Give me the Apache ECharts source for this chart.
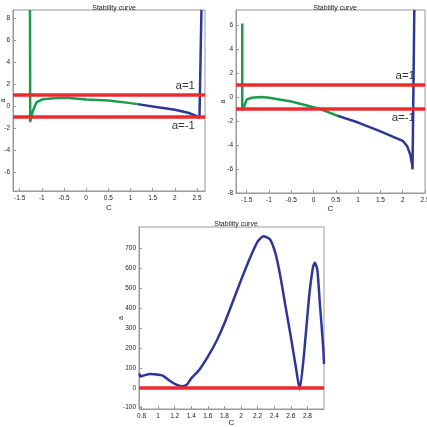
<!DOCTYPE html>
<html>
<head>
<meta charset="utf-8">
<script src="https://cdn.jsdelivr.net/npm/echarts@6/dist/echarts.min.js"></script>
<style>
  html, body { margin: 0; padding: 0; background: #fff; }
  #main { width: 427px; height: 427px; }
</style>
</head>
<body>
<div id="main"></div>
<script>
// top-left panel
var c1Green = [-1.267, -1.262, -1.25, -1.2, -1.12, -0.97, -0.74, -0.44, 0, 0.5, 1.0, 1.16];
var a1Green = [8.75, -1.47, -1.2, -0.41, 0.35, 0.62, 0.71, 0.74, 0.59, 0.5, 0.26, 0.17];
var c1Blue = [1.16, 1.5, 2.0, 2.3, 2.5, 2.555, 2.6];
var a1Blue = [0.17, -0.05, -0.35, -0.62, -0.92, -1.12, 8.75];

// top-right panel
var c2Green = [-1.6, -1.6, -1.56, -1.5, -1.39, -1.17, -1.0, -0.5, 0, 0.15, 0.53];
var a2Green = [6.12, -1.12, -0.79, -0.22, -0.06, 0, -0.06, -0.37, -0.85, -1.0, -1.55];
var c2Blue = [0.53, 1.0, 1.5, 2.0, 2.1, 2.17, 2.21, 2.22, 2.26];
var a2Blue = [-1.55, -2.13, -2.87, -3.65, -4.1, -4.8, -5.6, -6.04, 7.25];

// bottom panel
var c3 = [0.775, 0.785, 0.8, 0.9, 0.95, 1.06, 1.14, 1.22, 1.285, 1.345, 1.4, 1.5, 1.6, 1.7, 1.8, 1.9, 2.0, 2.1, 2.2, 2.27, 2.35, 2.415, 2.475, 2.537, 2.6, 2.66, 2.707, 2.76, 2.82, 2.868, 2.89, 2.92, 2.95, 2.99, 3.0];
var a3 = [72, 56, 58, 69, 68, 60, 35, 15, 7, 15, 47, 92, 156, 231, 324, 432, 541, 645, 734, 762, 745, 675, 558, 407, 256, 105, -8, 173, 457, 608, 628, 591, 424, 206, 119];

var xTicksTop = [-1.5, -1, -0.5, 0, 0.5, 1, 1.5, 2, 2.5];
var yTicks1 = [-6, -4, -2, 0, 2, 4, 6, 8];
var yTicks2 = [-8, -6, -4, -2, 0, 2, 4, 6];
var xTicks3 = [0.8, 1, 1.2, 1.4, 1.6, 1.8, 2, 2.2, 2.4, 2.6, 2.8];
var yTicks3 = [-100, 0, 100, 200, 300, 400, 500, 600, 700];

var GREEN = '#1a9a4c';
var BLUE = '#2e3796';
var RED = '#ee2a2e';

function pairs(xs, ys) {
  return xs.map(function (x, i) { return [x, ys[i]]; });
}

function xAx(idx, min, max, ticks, gap) {
  return {
    type: 'value', gridIndex: idx, min: min, max: max,
    name: 'C', nameLocation: 'middle', nameGap: gap, nameMoveOverlap: false,
    nameTextStyle: { fontSize: 8, color: '#222' },
    axisLine: { onZero: false, lineStyle: { color: '#999' } },
    axisTick: { inside: true, length: 3, customValues: ticks, lineStyle: { color: '#999' } },
    axisLabel: { customValues: ticks, fontSize: 6.5, color: '#222', margin: 4 },
    splitLine: { show: false }
  };
}

function yAx(idx, min, max, ticks, gap) {
  return {
    type: 'value', gridIndex: idx, min: min, max: max,
    name: 'a', nameLocation: 'middle', nameGap: gap, nameRotate: 90, nameMoveOverlap: false,
    nameTextStyle: { fontSize: 7, color: '#222' },
    axisLine: { show: true, onZero: false, lineStyle: { color: '#999' } },
    axisTick: { show: true, inside: true, length: 3, customValues: ticks, lineStyle: { color: '#999' } },
    axisLabel: { customValues: ticks, fontSize: 6.5, color: '#222', margin: 3 },
    splitLine: { show: false }
  };
}

function curve(idx, xs, ys, color, smooth) {
  return {
    type: 'line', xAxisIndex: idx, yAxisIndex: idx,
    data: pairs(xs, ys), showSymbol: false, smooth: smooth || false,
    lineStyle: { color: color, width: 2.5 }, z: 3
  };
}

function redLines(idx, levels, withLabels) {
  return {
    type: 'line', xAxisIndex: idx, yAxisIndex: idx, data: [],
    markLine: {
      silent: true, symbol: 'none',
      lineStyle: { color: RED, width: 3.5, type: 'solid' },
      label: { show: false },
      data: levels.map(function (v) {
        return {
          yAxis: v,
          label: withLabels ? {
            show: true,
            formatter: 'a=' + v,
            position: v > 0 ? 'insideEndTop' : 'insideEndBottom',
            distance: [10, 3],
            fontSize: 11.5,
            color: '#333'
          } : { show: false }
        };
      })
    },
    z: 4
  };
}

var chart = echarts.init(document.getElementById('main'), null, { renderer: 'canvas' });

var gridBase = { show: true, borderColor: '#999', borderWidth: 1, backgroundColor: 'transparent', containLabel: false, outerBoundsMode: 'none' };

var option = {
  animation: false,
  title: [
    { text: 'Stability curve', left: 109, top: 0, textAlign: 'center', textStyle: { fontSize: 7, fontWeight: 'normal', color: '#222' } },
    { text: 'Stability curve', left: 330, top: 0, textAlign: 'center', textStyle: { fontSize: 7, fontWeight: 'normal', color: '#222' } },
    { text: 'Stability curve', left: 231, top: 216, textAlign: 'center', textStyle: { fontSize: 7, fontWeight: 'normal', color: '#222' } }
  ],
  grid: [
    Object.assign({ left: 13, top: 10, width: 192, height: 181 }, gridBase),
    Object.assign({ left: 236, top: 10, width: 189, height: 183 }, gridBase),
    Object.assign({ left: 139, top: 227, width: 185, height: 182 }, gridBase)
  ],
  xAxis: [
    xAx(0, -1.65, 2.68, xTicksTop, 13),
    xAx(1, -1.74, 2.5, xTicksTop, 12),
    xAx(2, 0.77, 3.0, xTicks3, 10)
  ],
  yAxis: [
    yAx(0, -7.75, 8.75, yTicks1, 6),
    yAx(1, -8, 7.25, yTicks2, 9),
    yAx(2, -107, 808, yTicks3, 14)
  ],
  series: [
    redLines(0, [1, -1], true),
    curve(0, c1Green, a1Green, GREEN),
    curve(0, c1Blue, a1Blue, BLUE),
    redLines(1, [1, -1], true),
    curve(1, c2Green, a2Green, GREEN),
    curve(1, c2Blue, a2Blue, BLUE),
    redLines(2, [0], false),
    curve(2, c3, a3, BLUE, 0.2)
  ]
};

chart.setOption(option);
</script>
</body>
</html>
